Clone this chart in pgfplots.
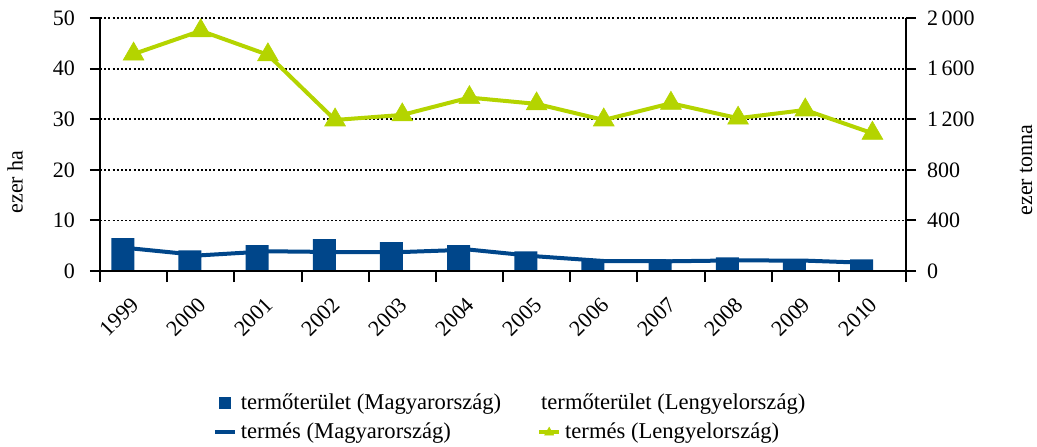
\documentclass[border=0pt]{standalone}
\usepackage{fontspec}
\setmainfont{Liberation Serif}
\usepackage{pgfplots}
\pgfplotsset{compat=1.18}
\definecolor{hublue}{HTML}{00468A}
\definecolor{plgreen}{HTML}{B4D400}
\begin{document}
\begin{tikzpicture}
\pgfplotsset{
  base/.style={
    width=403pt, height=126.5pt, scale only axis,
    at={(0,0)}, anchor=south west,
    xmin=-0.5, xmax=11.5,
    /pgf/number format/assume math mode=true,
    tick label style={font=\fontsize{11}{13}\selectfont},
    label style={font=\fontsize{11}{13}\selectfont},
    axis line style={line width=1pt,-},
    tick style={line width=1pt,black},
  }
}
% left axis with bars
\begin{axis}[base,
  ymin=0, ymax=50, ytick={0,10,...,50},
  axis y line*=left, axis x line*=bottom,
  ymajorgrids, grid style={dash pattern=on 1pt off 1.1pt, black, line width=0.9pt},
  xtick={0,...,11},
  xticklabels={1999,2000,2001,2002,2003,2004,2005,2006,2007,2008,2009,2010},
  xtick style={draw=none},
  xticklabel style={xshift=-2pt, yshift=-2.5pt, rotate=45, anchor=north east},
  tick align=outside, major tick length=5pt,
  yticklabel style={xshift=-4pt},
  every axis y label/.style={at={(axis description cs:0,0.352)}, rotate=90, anchor=center, yshift=42.5pt, font=\fontsize{11}{13}\selectfont},
  ylabel={ezer ha},
]
\addplot[ybar, bar width=11.5pt, bar shift=-5.4pt, fill=hublue, draw=none]
  coordinates {(0,6.5)(1,4.1)(2,5.1)(3,6.3)(4,5.7)(5,5.1)(6,3.9)(7,2.3)(8,2.3)(9,2.7)(10,2.3)(11,2.3)};
\end{axis}
% x boundary ticks
\begin{axis}[base,
  ymin=0, ymax=50, axis y line=none, axis x line*=bottom,
  xtick={-0.5,0.5,...,11.5}, xticklabels={},
  tick align=outside, major tick length=5.5pt,
]
\addplot[draw=none] coordinates {(0,0)};
\end{axis}
% right axis with lines
\begin{axis}[base,
  ymin=0, ymax=2000, ytick={0,400,...,2000},
  axis y line*=right, axis x line=none,
  tick align=outside, major tick length=5pt,
  /pgf/number format/1000 sep={\,},
  yticklabel style={xshift=2pt},
  every axis y label/.style={at={(axis description cs:1,0.40)}, rotate=90, anchor=center, yshift=-60pt, font=\fontsize{11}{13}\selectfont},
  ylabel={ezer tonna},
  legend columns=2,
  legend cell align=left,
  legend style={draw=none, fill=none, at={(0.51,0)}, anchor=north, yshift=-57pt,
    font=\fontsize{11.3}{13}\selectfont, row sep=1.5pt,
    /tikz/every even column/.append style={column sep=16pt}},
  legend image code/.code={\draw[mark repeat=2,mark phase=2,#1] plot coordinates {(0pt,0pt)(5pt,0pt)(10pt,0pt)};},
]
\addlegendimage{only marks, mark=square*, mark size=2.8pt, hublue}
\addlegendentry{termőterület (Magyarország)}
\addlegendimage{empty legend}
\addlegendentry{\hspace*{-12pt}termőterület (Lengyelország)}
\addlegendimage{hublue, line width=2pt}
\addlegendentry{termés (Magyarország)}
\addlegendimage{plgreen, line width=2pt, mark=triangle*, mark size=2.6pt, mark options={solid, line width=0.3pt}}
\addlegendentry{termés (Lengyelország)}
\addplot[forget plot, hublue, line width=2pt, mark=none]
  coordinates {(0,177)(1,124)(2,156)(3,150)(4,150)(5,169)(6,116)(7,79)(8,77)(9,84)(10,82)(11,63)};
\addplot[forget plot, plgreen, line width=2pt, mark=triangle*, mark size=6pt, mark options={solid, line width=0.3pt}]
  coordinates {(0,1715)(1,1899)(2,1709)(3,1194)(4,1234)(5,1371)(6,1321)(7,1194)(8,1326)(9,1208)(10,1273)(11,1089)};
\end{axis}
\pgfresetboundingbox
\path[use as bounding box] (-50pt,-87.5pt) rectangle (468.5pt,135.5pt);
\end{tikzpicture}
\end{document}
